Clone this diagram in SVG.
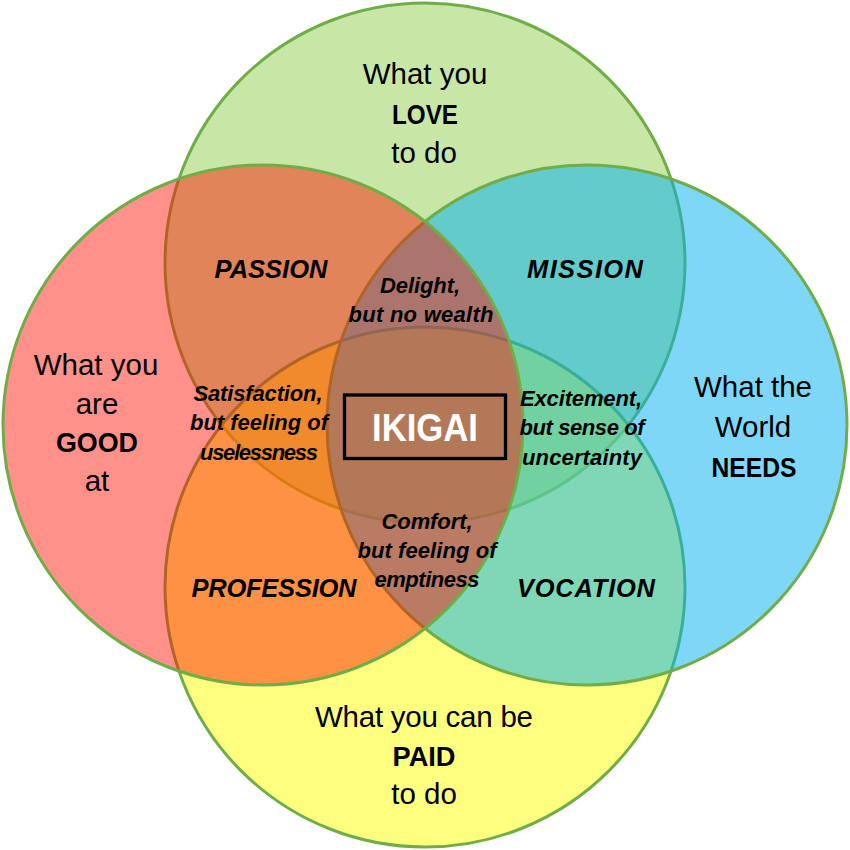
<svg xmlns="http://www.w3.org/2000/svg" width="850" height="850" viewBox="0 0 850 850">
  <style>
    .c { stroke: #70AD47; stroke-width: 3; fill-opacity: 0.5; }
    .red { fill-opacity: 0.46; }
    text { font-family: "Liberation Sans", Arial, sans-serif; fill: #000; text-anchor: middle; }
    .reg { font-size: 29.5px; }
    .bold { font-size: 27px; font-weight: bold; }
    .lbl { font-size: 25.5px; font-weight: bold; font-style: italic; }
    .sm { font-size: 22px; font-weight: bold; font-style: italic; }
    .ik { font-size: 38px; font-weight: bold; fill: #fff; }
  </style>
  <rect width="850" height="850" fill="#fff"/>
  <g id="love"><circle class="c" cx="425" cy="263" r="260" fill="#92D050"/></g>
  <g id="paid"><circle class="c" cx="425" cy="587" r="260" fill="#FFFF00"/></g>
  <g id="needs"><circle class="c" cx="587" cy="425" r="260" fill="#00B0F0"/></g>
  <g id="good"><circle class="c red" cx="263" cy="425" r="260" fill="#FF1000"/></g>

  <g id="love-label">
    <text class="reg" x="425" y="84">What you</text>
    <text class="bold" x="425" y="124" textLength="66" lengthAdjust="spacingAndGlyphs">LOVE</text>
    <text class="reg" x="424" y="163">to do</text>
  </g>
  <g id="good-label">
    <text class="reg" x="96" y="375">What you</text>
    <text class="reg" x="97" y="414">are</text>
    <text class="bold" x="97" y="452" textLength="82" lengthAdjust="spacingAndGlyphs">GOOD</text>
    <text class="reg" x="97" y="491">at</text>
  </g>
  <g id="needs-label">
    <text class="reg" x="753" y="397">What the</text>
    <text class="reg" x="753" y="437">World</text>
    <text class="bold" x="754" y="477" textLength="85" lengthAdjust="spacingAndGlyphs">NEEDS</text>
  </g>
  <g id="paid-label">
    <text class="reg" x="424" y="727" textLength="218">What you can be</text>
    <text class="bold" x="424" y="766" textLength="63" lengthAdjust="spacingAndGlyphs">PAID</text>
    <text class="reg" x="424" y="804">to do</text>
  </g>

  <g id="passion"><text class="lbl" x="271" y="278" textLength="113">PASSION</text></g>
  <g id="mission"><text class="lbl" x="585" y="278" textLength="116">MISSION</text></g>
  <g id="profession"><text class="lbl" x="274" y="597" textLength="165">PROFESSION</text></g>
  <g id="vocation"><text class="lbl" x="586" y="597" textLength="138">VOCATION</text></g>

  <g id="delight">
    <text class="sm" x="420" y="293" textLength="80">Delight,</text>
    <text class="sm" x="421" y="322" textLength="145">but no wealth</text>
  </g>
  <g id="satisfaction">
    <text class="sm" x="258" y="401" textLength="129">Satisfaction,</text>
    <text class="sm" x="259" y="430" textLength="138">but feeling of</text>
    <text class="sm" x="259" y="460" textLength="118">uselessness</text>
  </g>
  <g id="excitement">
    <text class="sm" x="581" y="406" textLength="122">Excitement,</text>
    <text class="sm" x="582" y="435" textLength="125">but sense of</text>
    <text class="sm" x="582" y="465" textLength="120">uncertainty</text>
  </g>
  <g id="comfort">
    <text class="sm" x="427" y="529" textLength="91">Comfort,</text>
    <text class="sm" x="427" y="558" textLength="139">but feeling of</text>
    <text class="sm" x="427" y="587" textLength="105">emptiness</text>
  </g>

  <g id="ikigai">
    <rect x="344.5" y="395" width="161" height="63.5" fill="none" stroke="#000" stroke-width="3.3"/>
    <text class="ik" x="425" y="441" textLength="106" lengthAdjust="spacingAndGlyphs">IKIGAI</text>
  </g>
</svg>
